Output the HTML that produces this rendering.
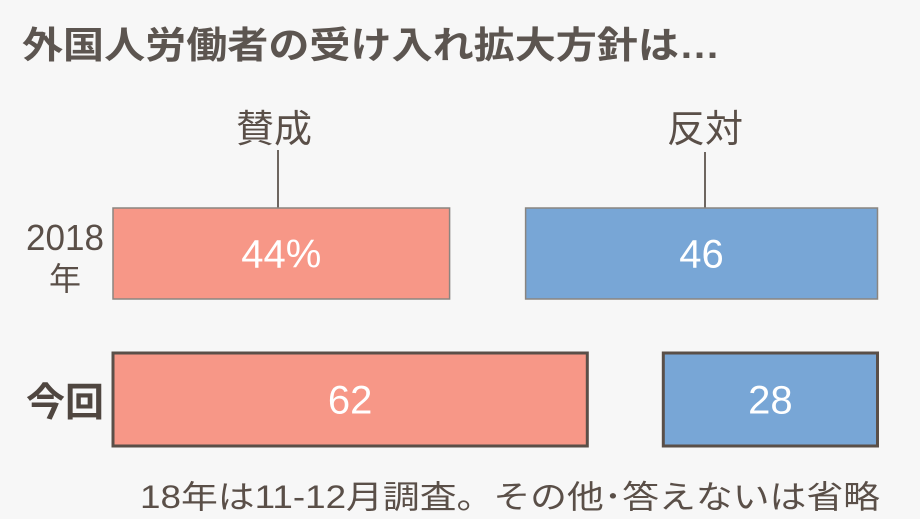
<!DOCTYPE html>
<html><head><meta charset="utf-8"><style>
html,body{margin:0;padding:0;background:#f7f7f7;}
svg{display:block;font-family:"Liberation Sans","Noto Sans CJK JP",sans-serif;}
</style></head><body>
<svg id="chart" width="920" height="519" viewBox="0 0 920 519">
<rect x="0" y="0" width="920" height="519" fill="#f7f7f7"/>
<text x="22" y="58" font-size="37" font-weight="bold" fill="#5c5550" textLength="698" lengthAdjust="spacingAndGlyphs">外国人労働者の受け入れ拡大方針は…</text>
<text x="274" y="142" font-size="38" fill="#5a4f48" text-anchor="middle">賛成</text>
<line x1="278" y1="150" x2="278" y2="214" stroke="#6e6660" stroke-width="2"/>
<text x="705" y="142" font-size="38" fill="#5a4f48" text-anchor="middle">反対</text>
<line x1="705" y1="152" x2="705" y2="214" stroke="#6e6660" stroke-width="2"/>
<text x="65" y="250" font-size="36" fill="#5a4f48" text-anchor="middle" textLength="78" lengthAdjust="spacingAndGlyphs">2018</text>
<text x="65" y="290" font-size="32" fill="#5a4f48" text-anchor="middle">年</text>
<text x="65" y="416" font-size="39" font-weight="bold" fill="#4f4640" text-anchor="middle">今回</text>
<text x="140" y="508" font-size="32" fill="#5a4f48" textLength="740" lengthAdjust="spacingAndGlyphs">18年は11-12月調査。その他･答えないは省略</text>
<g id="bars"></g>
</svg>
<script>
const rows = ["2018年", "今回"];
const approve = [44, 62];
const oppose = [46, 28];
const approveLabels = ["44%", "62"];
const opposeLabels = ["46", "28"];

const ns = "http://www.w3.org/2000/svg";
const g = document.getElementById("bars");
const x0 = 113, pxPer = 7.65, gap = 76;
const rowY = [208, 353], rowH = [91, 93];
const borders = [["#8a8580", 1.5], ["#5a4f48", 3]];
function xs(v){ return v * pxPer; }
function mk(tag, attrs){ const e = document.createElementNS(ns, tag); for (const k in attrs) e.setAttribute(k, attrs[k]); return e; }
rows.forEach((r, i) => {
  const wA = xs(approve[i]), wO = xs(oppose[i]);
  const ra = mk("rect", {x: x0, y: rowY[i], width: wA, height: rowH[i], fill: "#f79787", stroke: borders[i][0], "stroke-width": borders[i][1]});
  
  
  g.appendChild(ra);
  const ox = x0 + wA + gap;
  const ro = mk("rect", {x: ox, y: rowY[i], width: wO, height: rowH[i], fill: "#78a6d6", stroke: borders[i][0], "stroke-width": borders[i][1]});
  
  
  g.appendChild(ro);
  const ta = mk("text", {x: x0 + wA/2, y: rowY[i] + rowH[i]/2 + 14, "font-size": 40, fill: "#fff", "text-anchor": "middle", transform: ""});
  ta.textContent = approveLabels[i];
  
  
  g.appendChild(ta);
  const to = mk("text", {x: ox + wO/2, y: rowY[i] + rowH[i]/2 + 14, "font-size": 40, fill: "#fff", "text-anchor": "middle"});
  to.textContent = opposeLabels[i];
  
  
  g.appendChild(to);
});
</script>
</body></html>
